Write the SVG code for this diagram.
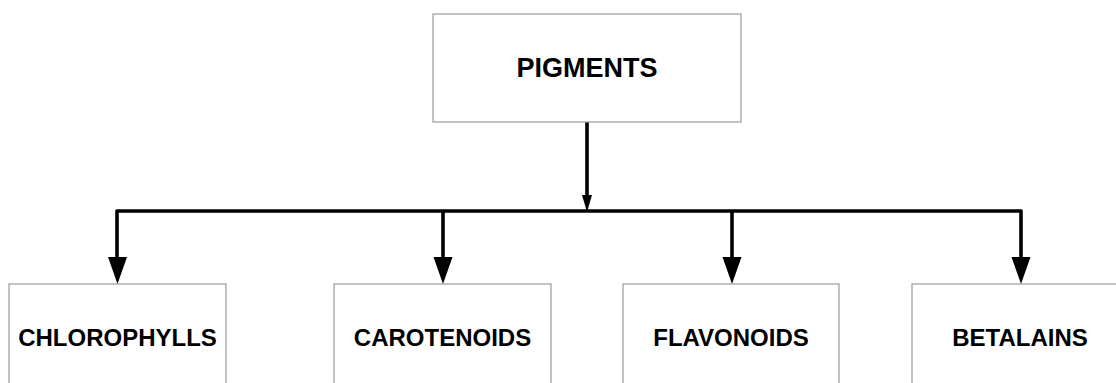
<svg xmlns="http://www.w3.org/2000/svg" width="1116" height="383" viewBox="0 0 1116 383">
<style>
.box{fill:#fff;stroke:#9a9a9a;stroke-width:1.2}
.lbl{font-family:"Liberation Sans",Arial,sans-serif;font-weight:bold;fill:#000;text-anchor:middle}
.big{font-size:27px}
.sm{font-size:24px}
.ln{fill:none;stroke:#000;stroke-width:3.6;stroke-linejoin:round}
.ah{fill:#000}
</style>
<rect width="1116" height="383" fill="#fff"/>
<g id="connectors">
<path class="ln" d="M587 122 V200"/>
<polygon class="ah" points="582,195 592,195 587,212"/>
<path class="ln" d="M117 259 V211 H1021 V259"/>
<path class="ln" d="M443 211 V259"/>
<path class="ln" d="M732 211 V259"/>
<polygon class="ah" points="108,257 127,257 117.5,284"/>
<polygon class="ah" points="433.5,257 452.5,257 443,284"/>
<polygon class="ah" points="722.5,257 741.5,257 732,284"/>
<polygon class="ah" points="1011.5,257 1030.5,257 1021,284"/>
</g>
<g id="pigments">
<rect class="box" x="433" y="14" width="308" height="108"/>
<text class="lbl big" x="587" y="77">PIGMENTS</text>
</g>
<g id="chlorophylls">
<rect class="box" x="9" y="284" width="217" height="110"/>
<text class="lbl sm" x="117.5" y="346">CHLOROPHYLLS</text>
</g>
<g id="carotenoids">
<rect class="box" x="334" y="284" width="217" height="110"/>
<text class="lbl sm" x="442.5" y="346">CAROTENOIDS</text>
</g>
<g id="flavonoids">
<rect class="box" x="623" y="284" width="216" height="110"/>
<text class="lbl sm" x="731" y="346">FLAVONOIDS</text>
</g>
<g id="betalains">
<rect class="box" x="912" y="284" width="217" height="110"/>
<text class="lbl sm" x="1020" y="346">BETALAINS</text>
</g>
</svg>
